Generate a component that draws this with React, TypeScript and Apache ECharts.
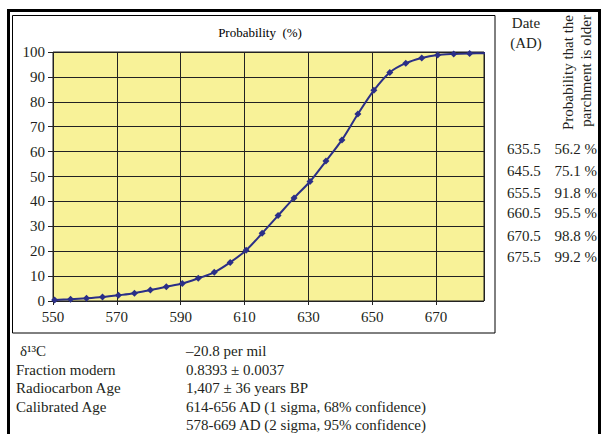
import React, { useEffect, useRef } from "react";
import * as echarts from "echarts";

// ---- data ----
const years = [
  550.5, 555.5, 560.5, 565.5, 570.5, 575.5, 580.5, 585.5, 590.5, 595.5,
  600.5, 605.5, 610.5, 615.5, 620.5, 625.5, 630.5, 635.5, 640.5, 645.5,
  650.5, 655.5, 660.5, 665.5, 670.5, 675.5, 680.5, 685.5,
];
const probability = [
  0.4, 0.7, 1.1, 1.6, 2.3, 3.1, 4.4, 5.7, 7.0, 9.1,
  11.5, 15.5, 20.4, 27.2, 34.3, 41.4, 48.0, 56.2, 64.7, 75.1,
  84.6, 91.8, 95.5, 97.6, 98.8, 99.2, 99.4, 99.5,
];
const tableDates = ["635.5", "645.5", "655.5", "660.5", "670.5", "675.5"];
const tablePercents = ["56.2 %", "75.1 %", "91.8 %", "95.5 %", "98.8 %", "99.2 %"];
const infoLabels = ["δ¹³C", "Fraction modern", "Radiocarbon Age", "Calibrated Age", ""];
const infoValues = [
  "–20.8 per mil",
  "0.8393 ± 0.0037",
  "1,407 ± 36 years BP",
  "614-656 AD (1 sigma, 68% confidence)",
  "578-669 AD (2 sigma, 95% confidence)",
];
const titleText = "Probability  (%)";
const tableHeaderDate = ["Date", "(AD)"];
const tableHeaderProb = ["Probability that the", "parchment is older"];

// ---- layout ----
const FONT = '"Liberation Serif", "DejaVu Serif", serif';
const TEXT_COLOR = "#231f20";
const tableRowY = [149, 171, 193, 213, 236, 257];
const infoRowY = [351, 369.5, 388, 406.5, 425];

export default function App() {
  const ref = useRef<HTMLDivElement>(null);

  useEffect(() => {
    if (!ref.current) return;
    const chart = echarts.init(ref.current, undefined, { renderer: "svg" });

    const txt = (x: number, y: number, text: string, align = "left", extra: any = {}) => ({
      type: "text",
      x,
      y,
      silent: true,
      ...extra,
      style: {
        text,
        fontSize: 15,
        fontFamily: FONT,
        fill: TEXT_COLOR,
        align,
        verticalAlign: "middle",
        ...(extra.style || {}),
      },
    });

    const graphics: any[] = [
      // outer thick frame
      {
        type: "rect",
        shape: { x: 8.5, y: 10.5, width: 591, height: 460 },
        style: { fill: "none", stroke: "#000", lineWidth: 3 },
        silent: true,
        z: 0,
      },
      // inner box around chart
      {
        type: "rect",
        shape: { x: 12.5, y: 15.5, width: 482.5, height: 317.5 },
        style: { fill: "none", stroke: "#000", lineWidth: 1 },
        silent: true,
        z: 0,
      },
      txt(260, 32, titleText, "center", { style: { fontSize: 13, fill: "#000" } }),
      txt(526, 23, tableHeaderDate[0], "center"),
      txt(526, 43, tableHeaderDate[1], "center"),
      txt(568, 15, tableHeaderProb[0], "right", { rotation: Math.PI / 2 }),
      txt(586, 15, tableHeaderProb[1], "right", { rotation: Math.PI / 2 }),
    ];
    tableDates.forEach((d, i) => {
      graphics.push(txt(507, tableRowY[i], d, "left"));
      graphics.push(txt(597, tableRowY[i], tablePercents[i], "right"));
    });
    infoLabels.forEach((l, i) => {
      if (l) graphics.push(txt(i === 0 ? 20 : 16, infoRowY[i], l, "left"));
    });
    infoValues.forEach((v, i) => {
      graphics.push(txt(186, infoRowY[i], v, "left"));
    });

    chart.setOption({
      animation: false,
      grid: {
        left: 53,
        top: 52,
        right: 117,
        bottom: 133,
        show: true,
        backgroundColor: "#F8F298",
        borderColor: "#222",
        borderWidth: 1,
      },
      xAxis: {
        type: "value",
        min: 550,
        max: 685,
        interval: 20,
        axisLine: { show: false },
        axisTick: { show: true, length: 4, lineStyle: { color: "#222" } },
        axisLabel: {
          showMaxLabel: false,
          margin: 8,
          fontSize: 15,
          fontFamily: FONT,
          color: TEXT_COLOR,
        },
        splitLine: { show: true, lineStyle: { color: "#222", width: 1 } },
      },
      yAxis: {
        type: "value",
        min: 0,
        max: 100,
        interval: 10,
        axisLine: { show: false },
        axisTick: { show: true, length: 5, lineStyle: { color: "#222" } },
        axisLabel: {
          margin: 8,
          fontSize: 15,
          fontFamily: FONT,
          color: TEXT_COLOR,
        },
        splitLine: { show: true, lineStyle: { color: "#222", width: 1 } },
      },
      series: [
        {
          type: "line",
          data: years.map((y, i) => [y, probability[i]]),
          smooth: 0.3,
          clip: true,
          symbol: "diamond",
          symbolSize: 7,
          lineStyle: { color: "#2B2F87", width: 2 },
          itemStyle: { color: "#2B2F87" },
        },
      ],
      graphic: graphics,
    });

    return () => chart.dispose();
  }, []);

  return (
    <div
      ref={ref}
      style={{ position: "absolute", left: 0, top: 0, width: 601, height: 434 }}
    />
  );
}
